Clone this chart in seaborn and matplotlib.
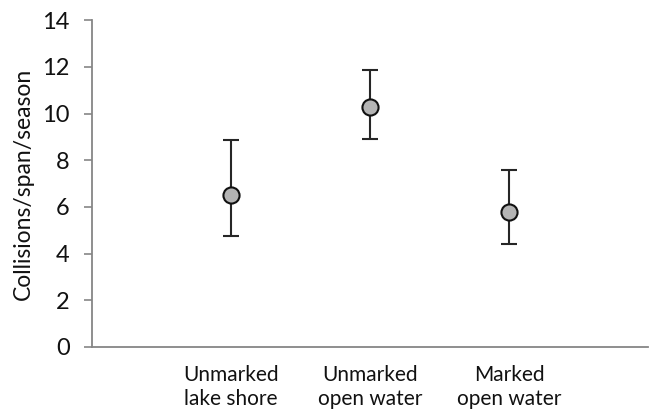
import matplotlib
matplotlib.use('Agg')
import matplotlib.pyplot as plt
import seaborn as sns
import pandas as pd

# data
groups = ['Unmarked\nlake shore', 'Unmarked\nopen water', 'Marked\nopen water']
means = [6.5, 10.28, 5.78]
upper = [8.88, 11.86, 7.56]
lower = [4.75, 8.9, 4.41]

sns.set_style('white')
plt.rcParams['font.family'] = ['Lato', 'DejaVu Sans']

df = pd.DataFrame({'pos': [1, 2, 3], 'mean': means})

fig = plt.figure(figsize=(6.52, 4.12), dpi=100)
ax = fig.add_axes([0.141, 0.158, 0.853, 0.793])

err = [[m - l for m, l in zip(means, lower)], [u - m for m, u in zip(means, upper)]]
ax.errorbar(df['pos'], df['mean'], yerr=err, fmt='none', ecolor='#262626',
            elinewidth=1.5, capsize=5.5, capthick=1.5, zorder=2)
sns.scatterplot(data=df, x='pos', y='mean', ax=ax, s=135, color='#b4b4b4',
                edgecolor='#111111', linewidth=1.5, zorder=3, legend=False)

ax.set_xlim(0, 4)
ax.set_ylim(0, 14)
ax.set_yticks(range(0, 15, 2))
ax.set_xticks([1, 2, 3])
ax.set_xticklabels(groups, fontsize=15, linespacing=1.25, color='#111111')
ax.tick_params(axis='y', labelsize=17, length=6, width=1.2, color='#868686', pad=10,
               direction='out', left=True, labelcolor='#111111')
ax.tick_params(axis='x', length=0, pad=13)
ax.set_xlabel('')
ax.set_ylabel('Collisions/span/season', fontsize=16.5, color='#111111')
ax.yaxis.set_label_coords(-0.105, 0.5)

sns.despine(ax=ax)
for s in ['left', 'bottom']:
    ax.spines[s].set_color('#868686')
    ax.spines[s].set_linewidth(1.3)

fig.savefig('out.png', dpi=100)
